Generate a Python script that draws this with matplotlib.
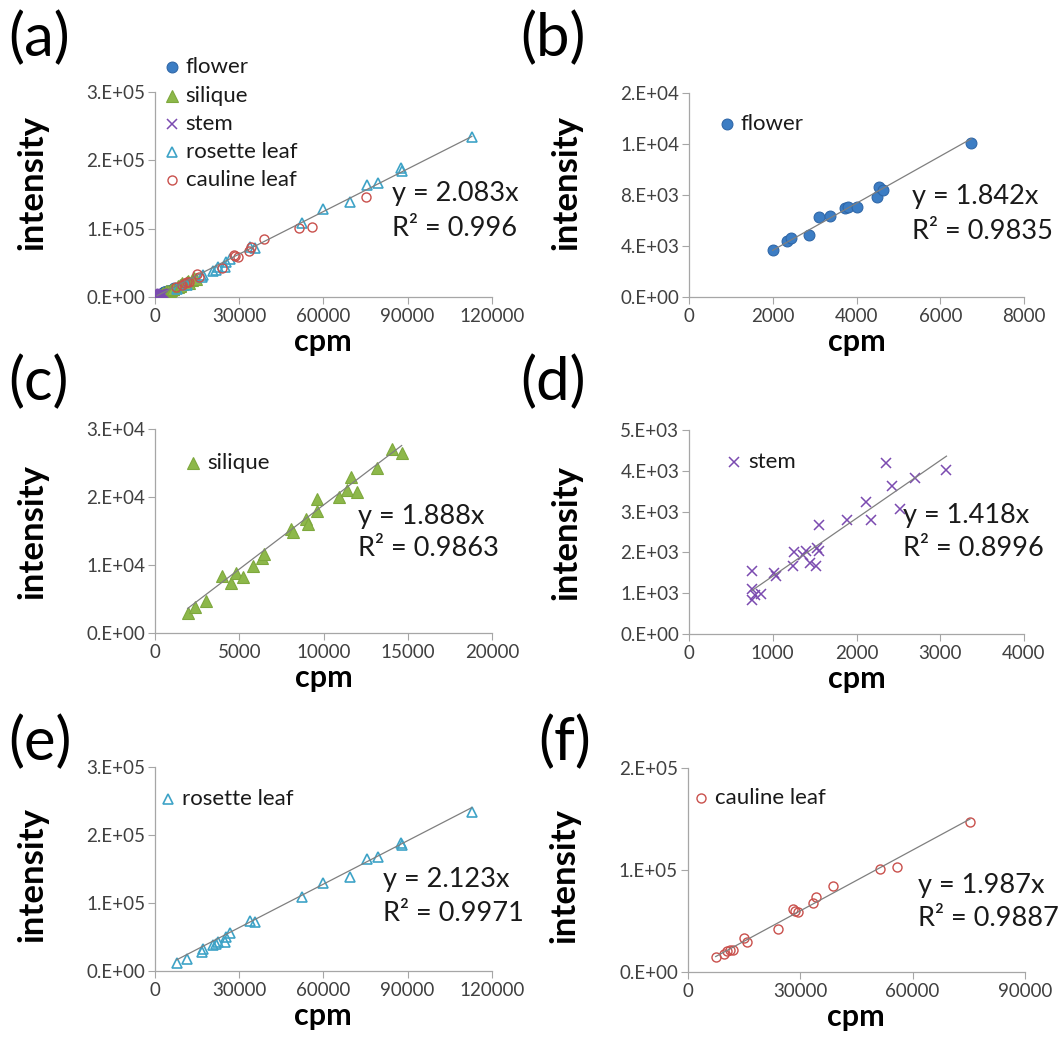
import numpy as np
import matplotlib
matplotlib.use("Agg")
import matplotlib.pyplot as plt
from matplotlib.ticker import FixedLocator, FixedFormatter

plt.rcParams["font.family"] = ["Lato", "DejaVu Sans"]

# ---- data (cpm, intensity) ----
flower_cpm = [1998, 2333, 2428, 2874, 3113, 3368, 3725, 3805, 4004, 4498, 4546, 4641, 6735]
flower_int = [3700, 4400, 4660, 4870, 6300, 6380, 7010, 7090, 7090, 7820, 8650, 8390, 12120]

silique_cpm = [1937, 2372, 3004, 3953, 4506, 4802, 5237, 5830, 6324, 6462, 8063, 8202,
               8933, 9051, 9585, 9585, 10909, 11364, 11601, 11957, 13142, 14032, 14625]
silique_int = [2940, 3920, 4750, 8480, 7350, 8920, 8240, 9950, 11030, 11670, 15340, 14950,
               16810, 16080, 19750, 18040, 20100, 21080, 22940, 20740, 24260, 27100, 26470]

stem_cpm = [755, 755, 755, 787, 855, 1014, 1038, 1245, 1253, 1364, 1396, 1443, 1511,
            1523, 1551, 1555, 1889, 2119, 2171, 2350, 2418, 2517, 2704, 3074]
stem_int = [1551, 1094, 833, 955, 971, 1486, 1429, 1673, 2016, 1935, 2033, 1731, 1673,
            2098, 2033, 2669, 2792, 3241, 2792, 4180, 3633, 3061, 3829, 4016]

rosette_cpm = [7720, 11290, 16750, 16990, 20790, 21740, 22570, 24950, 25300, 26730, 33860,
               35640, 52510, 59760, 69500, 75450, 79600, 87560, 88160, 112900]
rosette_int = [11250, 17100, 28400, 31800, 38100, 39600, 43000, 43000, 50400, 55300, 73300,
               71400, 108000, 128600, 138400, 163800, 166700, 188300, 184800, 233700]

cauline_cpm = [7470, 9700, 10590, 11300, 12010, 15030, 15740, 24020, 28020, 28640, 29530,
               33530, 34240, 38690, 51320, 55940, 75330]
cauline_int = [14700, 17000, 20600, 21200, 21200, 32700, 28800, 41800, 61100, 59200, 58800,
               67000, 73500, 84300, 100300, 102900, 146400]

# fitted slopes / R^2 shown on each panel
slopes = {"a": 2.083, "b": 1.842, "c": 1.888, "d": 1.418, "e": 2.123, "f": 1.987}
r2_text = {"a": "0.996", "b": "0.9835", "c": "0.9863", "d": "0.8996", "e": "0.9971", "f": "0.9887"}

x_ticks = {"a": [0, 30000, 60000, 90000, 120000], "b": [0, 2000, 4000, 6000, 8000],
           "c": [0, 5000, 10000, 15000, 20000], "d": [0, 1000, 2000, 3000, 4000],
           "e": [0, 30000, 60000, 90000, 120000], "f": [0, 30000, 60000, 90000]}
y_ticks = {"a": [0, 1e5, 2e5, 3e5], "b": [0, 4000, 8000, 12000, 16000],
           "c": [0, 1e4, 2e4, 3e4], "d": [0, 1000, 2000, 3000, 4000, 5000],
           "e": [0, 1e5, 2e5, 3e5], "f": [0, 1e5, 2e5]}
y_labels = {"a": ["0.E+00", "1.E+05", "2.E+05", "3.E+05"],
            "b": ["0.E+00", "4.E+03", "8.E+03", "1.E+04", "2.E+04"],
            "c": ["0.E+00", "1.E+04", "2.E+04", "3.E+04"],
            "d": ["0.E+00", "1.E+03", "2.E+03", "3.E+03", "4.E+03", "5.E+03"],
            "e": ["0.E+00", "1.E+05", "2.E+05", "3.E+05"],
            "f": ["0.E+00", "1.E+05", "2.E+05"]}

# ---- styles (Excel-like) ----
AXIS = "#a6a6a6"
TICKTXT = "#404040"
STYLES = {
    "flower": dict(marker="o", ms=7.8, mfc="#3c7dc4", mec="#2f67a8", mew=0.8),
    "silique": dict(marker="^", ms=8, mfc="#8db84a", mec="#7ea83d", mew=0.8),
    "stem": dict(marker="x", ms=6.5, mfc="none", mec="#7b4bb0", mew=1.1),
    "rosette leaf": dict(marker="^", ms=7, mfc="none", mec="#3ea3c7", mew=1.2),
    "cauline leaf": dict(marker="o", ms=6.5, mfc="none", mec="#c9504c", mew=1.0),
}
SERIES = {
    "flower": (flower_cpm, flower_int),
    "silique": (silique_cpm, silique_int),
    "stem": (stem_cpm, stem_int),
    "rosette leaf": (rosette_cpm, rosette_int),
    "cauline leaf": (cauline_cpm, cauline_int),
}

W, H = 1062, 1054
fig = plt.figure(figsize=(W / 100, H / 100), dpi=100)

# axes boxes in pixels: left, top, right, bottom
boxes = {"a": (155, 92.3, 491.7, 296.7), "b": (689, 93, 1024, 297.3),
         "c": (155, 429.3, 492.3, 633.3), "d": (689, 430, 1024, 634),
         "e": (155, 766.5, 491.7, 971), "f": (687.7, 767.7, 1025, 971.7)}
panel_series = {"a": list(SERIES), "b": ["flower"], "c": ["silique"], "d": ["stem"],
                "e": ["rosette leaf"], "f": ["cauline leaf"]}
# equation position (axes fraction): x, row1 y, row2 y
eq_pos = {"a": (0.703, 0.507, 0.336), "b": (0.665, 0.492, 0.321), "c": (0.603, 0.572, 0.417),
          "d": (0.640, 0.583, 0.420), "e": (0.676, 0.445, 0.282), "f": (0.684, 0.425, 0.262)}
# legend marker position in pixels (x, first row y)
leg_pos = {"a": (171.7, 67.3), "b": (726.7, 124.3), "c": (193.3, 462.7),
           "d": (734, 461.7), "e": (168.3, 799.3), "f": (700.7, 798.3)}
panel_lbl = {"a": (8, 38), "b": (520, 38), "c": (8, 382), "d": (520, 382),
             "e": (8, 742), "f": (538, 742)}
ylabel_y = {"a": 0.56, "b": 0.56, "c": 0.5, "d": 0.5, "e": 0.47, "f": 0.47}


def legend_entry(px, py, name):
    fig.lines.append(plt.Line2D([px / W], [1 - py / H], transform=fig.transFigure,
                                linestyle="none", **STYLES[name]))
    fig.text((px + 14) / W, 1 - py / H, name, fontsize=16, color="#1a1a1a",
             ha="left", va="center")


for key, (l, t, r, b) in boxes.items():
    ax = fig.add_axes([l / W, 1 - b / H, (r - l) / W, (b - t) / H])
    allx = []
    for name in panel_series[key]:
        xs, ys = SERIES[name]
        ax.plot(xs, ys, linestyle="none", zorder=3, **STYLES[name])
        allx += xs
    xr = np.array([min(allx), max(allx)])
    ax.plot(xr, slopes[key] * xr, color="#7f7f7f", lw=0.9, zorder=4)

    ax.set_xlim(x_ticks[key][0], x_ticks[key][-1])
    ax.set_ylim(y_ticks[key][0], y_ticks[key][-1])
    ax.xaxis.set_major_locator(FixedLocator(x_ticks[key]))
    ax.set_xticklabels([str(v) for v in x_ticks[key]])
    ax.yaxis.set_major_locator(FixedLocator(y_ticks[key]))
    ax.yaxis.set_major_formatter(FixedFormatter(y_labels[key]))
    for s in ["top", "right"]:
        ax.spines[s].set_visible(False)
    for s in ["left", "bottom"]:
        ax.spines[s].set_color(AXIS)
        ax.spines[s].set_linewidth(0.9)
    ax.tick_params(axis="both", direction="out", length=5, width=0.8, color=AXIS,
                   labelcolor=TICKTXT, labelsize=13.5)
    ax.tick_params(axis="x", pad=3)
    ax.tick_params(axis="y", pad=2)

    ax.set_xlabel("cpm", fontsize=22, fontweight="bold", va="center")
    ax.xaxis.set_label_coords(0.5, -45 / (b - t))
    ax.set_ylabel("intensity", fontsize=25, fontweight="bold", va="center")
    ax.yaxis.set_label_coords(-123 / (r - l), ylabel_y[key])

    ex, ey1, ey2 = eq_pos[key]
    ax.text(ex, ey1, f"y = {slopes[key]:.3f}x", transform=ax.transAxes, fontsize=19.5,
            color="#1a1a1a", ha="left", va="center")
    ax.text(ex, ey2, f"R\u00b2 = {r2_text[key]}", transform=ax.transAxes, fontsize=19.5,
            color="#1a1a1a", ha="left", va="center")

    lx, ly = leg_pos[key]
    for i, name in enumerate(panel_series[key]):
        legend_entry(lx, ly + i * 28.2, name)

    px, py = panel_lbl[key]
    fig.text(px / W, 1 - py / H, f"({key})", fontsize=43, ha="left", va="center",
             color="#000000")

fig.savefig("out.png", dpi=100, facecolor="white")
